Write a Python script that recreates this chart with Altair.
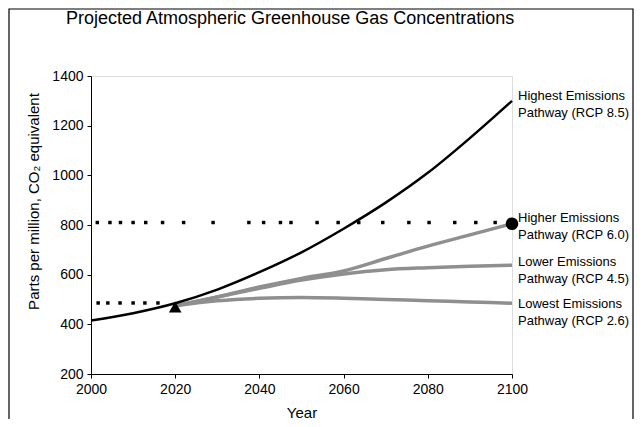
import altair as alt
import pandas as pd

# ---- data ----
years = [2000, 2010, 2020, 2030, 2040, 2050, 2060, 2070, 2080, 2090, 2100]
rcp85 = [415, 445, 485, 540, 610, 690, 785, 890, 1010, 1150, 1300]

years_future = [2020, 2030, 2040, 2050, 2060, 2070, 2080, 2090, 2100]
rcp60 = [475, 510, 550, 585, 615, 665, 715, 760, 805]
rcp45 = [475, 510, 545, 578, 603, 620, 628, 634, 638]
rcp26 = [475, 495, 505, 508, 505, 500, 495, 490, 485]

marker_year = [2020, 2100]
marker_ppm = [470, 805]
marker_shape = ["triangle-up", "circle"]

dots_800_years = [2001.5, 2004.5, 2007, 2010, 2013, 2017, 2022, 2029, 2037.5, 2041,
                  2045, 2047.5, 2053.7, 2058.7, 2063.6, 2069.3, 2075.5, 2080.3,
                  2086.4, 2091.4, 2096]
dots_800_ppm = 810
dots_485_years = [2001.7, 2004, 2006.9, 2010, 2012.8, 2015.9]
dots_485_ppm = 486

label_lines = [["Highest Emissions", "Pathway (RCP 8.5)"],
               ["Higher Emissions", "Pathway (RCP 6.0)"],
               ["Lower Emissions", "Pathway (RCP 4.5)"],
               ["Lowest Emissions", "Pathway (RCP 2.6)"]]
label_ppm = [1320, 830, 650, 480]

x_ticks = [2000, 2020, 2040, 2060, 2080, 2100]
y_ticks = [200, 400, 600, 800, 1000, 1200, 1400]

FONT = "Liberation Sans"

# ---- tables ----
df85 = pd.DataFrame({"year": years, "ppm": rcp85})
rows = []
for name, vals in [("RCP 6.0", rcp60), ("RCP 4.5", rcp45), ("RCP 2.6", rcp26)]:
    for y, v in zip(years_future, vals):
        rows.append({"year": y, "ppm": v, "series": name})
dfgray = pd.DataFrame(rows)
dfmark = pd.DataFrame({"year": marker_year, "ppm": marker_ppm, "shape": marker_shape})
dfdots = pd.DataFrame(
    {"year": dots_800_years + dots_485_years,
     "ppm": [dots_800_ppm] * len(dots_800_years) + [dots_485_ppm] * len(dots_485_years)})
dflab = pd.DataFrame({"year": [2100] * 4, "ppm": label_ppm, "label": label_lines})

xs = alt.Scale(domain=[2000, 2100], nice=False)
ys = alt.Scale(domain=[200, 1400], nice=False)

X = alt.X("year:Q", scale=xs,
          axis=alt.Axis(values=x_ticks, format="d", title="Year", grid=False,
                        domainColor="black", tickColor="black", tickSize=4,
                        labelFontSize=14, labelFont=FONT, labelColor="black",
                        labelFlush=False, labelPadding=4, titleFontSize=15, titleFont=FONT,
                        titleFontWeight="normal", titleColor="black", titlePadding=9))
Y = alt.Y("ppm:Q", scale=ys,
          axis=alt.Axis(values=y_ticks, format="d", title="Parts per million, CO\u2082 equivalent",
                        grid=False, domainColor="black", tickColor="black", tickSize=4,
                        labelFontSize=14, labelFont=FONT, labelColor="black",
                        labelFlush=False, labelPadding=4, titleFontSize=15, titleFont=FONT,
                        titleFontWeight="normal", titleColor="black",
                        titleX=-58, titleY=125, titleBaseline="middle"))

frame = alt.Chart(pd.DataFrame({"k": [0]})).mark_rect(
    fill=None, stroke="black", strokeWidth=1.2).encode(
    x=alt.value(-82), x2=alt.value(542), y=alt.value(-67), y2=alt.value(380))
gray = alt.Chart(dfgray).mark_line(color="#8f8f8f", strokeWidth=3.5, interpolate="monotone").encode(
    x=X, y=Y, detail="series:N")
black = alt.Chart(df85).mark_line(color="black", strokeWidth=2.5, interpolate="monotone").encode(
    x="year:Q", y="ppm:Q")
dots = alt.Chart(dfdots).mark_point(filled=True, color="black", size=12, shape="square", opacity=1).encode(
    x="year:Q", y="ppm:Q")
marks = alt.Chart(dfmark).mark_point(filled=True, color="black", size=160, opacity=1).encode(
    x="year:Q", y="ppm:Q",
    shape=alt.Shape("shape:N", scale=None, legend=None))
labels = alt.Chart(dflab).mark_text(align="left", baseline="middle", dx=6, fontSize=13,
                                     font=FONT, color="black", lineHeight=17).encode(
    x="year:Q", y="ppm:Q", text="label")

chart = alt.layer(gray, black, dots, marks, labels, frame).properties(
    width=421, height=298,
    title=alt.Title("Projected Atmospheric Greenhouse Gas Concentrations",
                    anchor="start", frame="group", dx=-25, offset=-20,
                    fontSize=18, font=FONT, fontWeight="normal", color="black"),
    autosize=alt.AutoSizeParams(type="none"),
    padding={"left": 83, "top": 68, "right": 123, "bottom": 45},
).configure_view(stroke=None).configure(background="white")

chart.save("out.html", embed_options={"renderer": "svg", "actions": False})
